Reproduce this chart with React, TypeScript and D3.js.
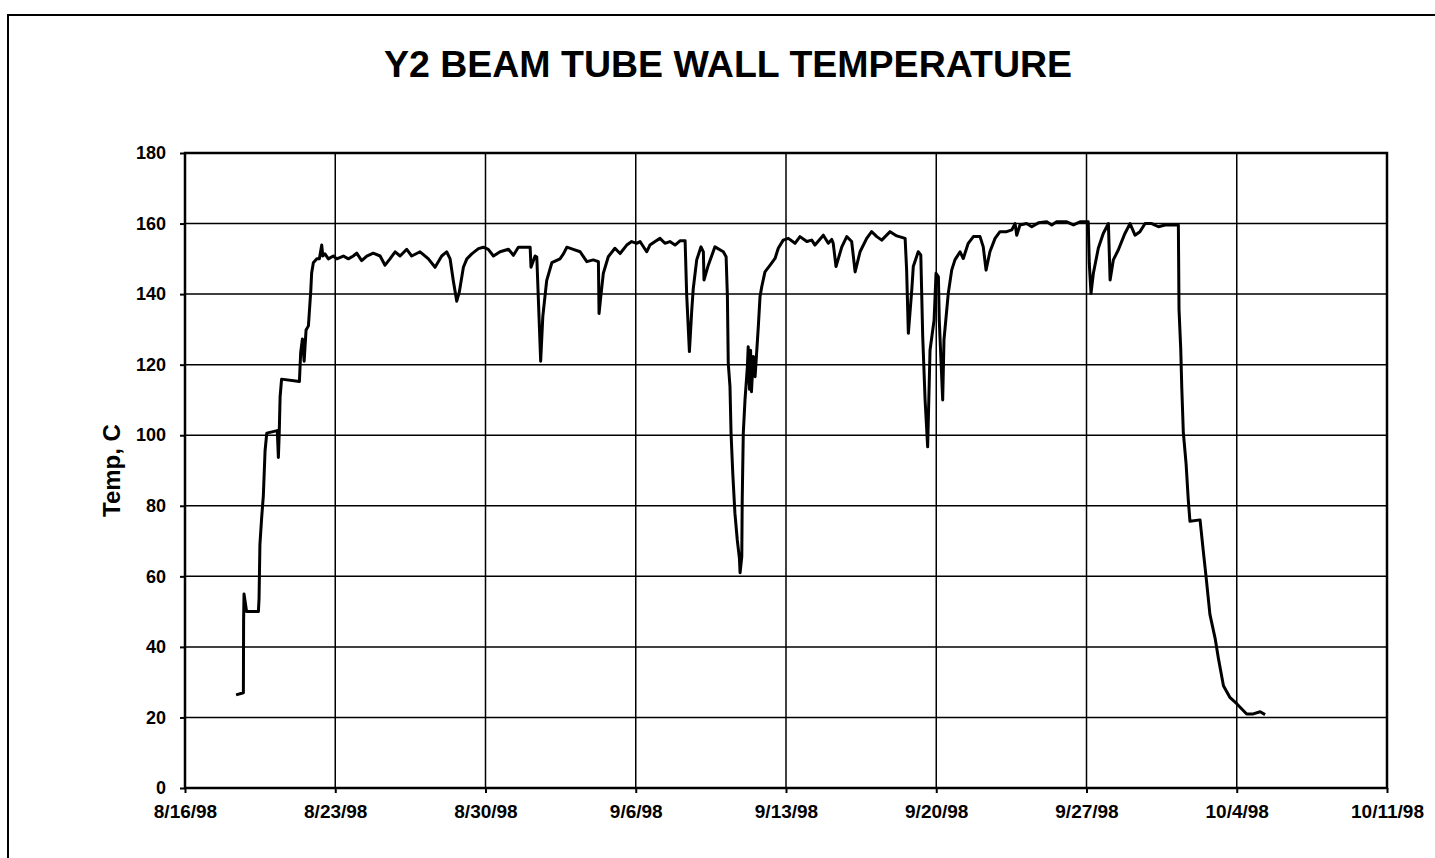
import { useEffect, useRef } from "react"
import * as d3 from "d3"

// x axis: 8/16/98 .. 10/11/98, one tick per week
const startDate = new Date(1998, 7, 16)
const weekCount = 8
const yTicks = [0, 20, 40, 60, 80, 100, 120, 140, 160, 180]

// days since 8/16/98 (fractional) and wall temperature, C
const dayOffsets = [
  2.38, 2.72, 2.73, 2.75, 2.87, 3.42, 3.45, 3.49, 3.57, 3.65, 3.73, 3.81, 4.30, 4.35, 4.39, 4.43, 4.50,
  5.33, 5.39, 5.47, 5.55, 5.64, 5.75, 5.86, 5.90, 5.98, 6.14, 6.26, 6.37, 6.42, 6.52, 6.68, 6.91, 7.07,
  7.38, 7.61, 7.84, 8.00, 8.23, 8.47, 8.77, 9.09, 9.32, 9.55, 9.79, 10.02, 10.33, 10.56, 10.95, 11.34,
  11.65, 11.96, 12.19, 12.35, 12.50, 12.66, 12.78, 12.97, 13.13, 13.36, 13.67, 13.90, 14.13, 14.37,
  14.68, 15.07, 15.30, 15.53, 16.08, 16.12, 16.31, 16.39, 16.57, 16.67, 16.85, 17.09, 17.47, 17.63,
  17.79, 18.09, 18.41, 18.72, 19.02, 19.26, 19.29, 19.37, 19.49, 19.72, 20.03, 20.27, 20.58, 20.81,
  21.04, 21.20, 21.51, 21.66, 21.90, 22.13, 22.36, 22.59, 22.83, 23.06, 23.30, 23.37, 23.50, 23.61,
  23.68, 23.84, 24.04, 24.15, 24.18, 24.38, 24.69, 25.08, 25.21, 25.27, 25.31, 25.39, 25.44, 25.52,
  25.62, 25.73, 25.83, 25.86, 25.94, 25.96, 26.01, 26.09, 26.20, 26.24, 26.30, 26.35, 26.39, 26.48,
  26.56, 26.64, 26.71, 26.79, 26.87, 27.02, 27.26, 27.49, 27.64, 27.87, 28.11, 28.42, 28.65, 28.97,
  29.20, 29.35, 29.74, 29.97, 30.13, 30.20, 30.33, 30.60, 30.83, 31.06, 31.22, 31.45, 31.76, 31.99,
  32.23, 32.46, 32.85, 33.16, 33.55, 33.62, 33.70, 33.86, 33.93, 34.16, 34.28, 34.37, 34.48, 34.60,
  34.71, 34.90, 34.99, 35.10, 35.14, 35.26, 35.30, 35.36, 35.56, 35.72, 35.87, 36.11, 36.26, 36.49,
  36.73, 37.04, 37.19, 37.32, 37.50, 37.74, 37.97, 38.28, 38.52, 38.67, 38.75, 38.90, 39.21, 39.45,
  39.76, 40.15, 40.38, 40.61, 41.08, 41.39, 41.70, 42.08, 42.13, 42.21, 42.32, 42.55, 42.78, 43.02,
  43.10, 43.25, 43.48, 43.79, 44.03, 44.26, 44.49, 44.73, 45.04, 45.35, 45.66, 46.28, 46.31, 46.39,
  46.44, 46.51, 46.64, 46.74, 46.82, 47.29, 47.44, 47.57, 47.75, 47.99, 48.14, 48.38, 48.69, 49.00,
  49.46, 49.77, 50.09, 50.32
]

const temps = [
  26.4, 27, 47.3, 55, 50, 50, 53.7, 69, 76.5, 82.9, 95.6, 100.6, 101.3, 93.7, 100.6, 110.8, 115.9,
  115.2, 123.5, 127.3, 121, 129.8, 131, 141, 146, 148.9, 150, 150, 153.9, 150.8, 151.4, 150, 150.8, 150,
  150.8, 150, 150.8, 151.6, 149.5, 150.8, 151.6, 150.8, 148.2, 150, 152, 150.8, 152.7, 150.8, 152, 150,
  147.6, 150.8, 152, 150, 143.8, 138, 140.6, 147.6, 150, 151.4, 152.9, 153.3, 152.7, 150.8,
  152, 152.7, 151, 153.3, 153.3, 147.6, 150.8, 150.5, 121, 133.6, 143.8, 148.9, 150, 151.4,
  153.3, 152.7, 152, 149.2, 149.7, 149.2, 134.5, 139.3, 145.9, 150.6, 153, 151.5, 153.9, 154.9,
  154.4, 154.9, 152, 153.9, 154.9, 155.8, 154.4, 154.9, 153.9, 155.1, 155.1, 140.2, 123.7, 135.5,
  141.6, 149.7, 153.4, 152, 144, 148.2, 153.4, 152, 150.6, 139.3, 120.4, 113.8, 100.6, 89.2,
  77.9, 70.3, 65.1, 61, 65.6, 81.6, 100.6, 110, 119.4, 125.1, 113, 124.1, 112.3, 122.3,
  116.6, 124.1, 130.8, 139.3, 142.1, 146.3, 148.2, 150.1, 153, 155.3, 155.8, 154.4, 156.3, 154.9,
  155.3, 153.9, 156.7, 154.4, 155.5, 154.4, 147.8, 153.4, 156.3, 154.9, 146.3, 152, 155.8, 157.7,
  156.3, 155.3, 157.7, 156.5, 155.8, 146.8, 128.9, 141.2, 147.8, 152, 151.1, 127.9, 110, 96.7,
  124.1, 132.7, 145.9, 144.9, 132.7, 115.6, 110, 127, 140.2, 146.8, 149.7, 152, 150.1, 154.4,
  156.3, 156.3, 153.4, 146.8, 152, 155.8, 157.7, 157.7, 158.2, 160, 156.7, 159.6, 160, 159.1,
  160.2, 160.5, 159.6, 160.5, 160.5, 159.6, 160.5, 160.5, 148.7, 140.2, 145.9, 153, 157.2, 160,
  144, 149.7, 152.5, 157.2, 160, 156.7, 157.7, 160, 160, 159.1, 159.6, 159.6, 135.7, 124.5,
  113.3, 100.9, 91.9, 81.8, 75.6, 76, 67.2, 59.9, 49.2, 42.5, 36.9, 29, 25.6, 23.9,
  21, 21, 21.6, 20.8
]

const W = 1435
const H = 858
const plot = { left: 185, right: 1387, top: 153, bottom: 788 }
const font = "'Liberation Sans', Arial, sans-serif"

export default function App() {
  const ref = useRef(null)

  useEffect(() => {
    const svg = d3.select(ref.current)
    svg.selectAll("*").remove()

    const endDate = d3.timeDay.offset(startDate, weekCount * 7)
    const x = d3.scaleTime().domain([startDate, endDate]).range([plot.left, plot.right])
    const y = d3.scaleLinear().domain([0, 180]).range([plot.bottom, plot.top])
    const weeks = d3.range(weekCount + 1).map(i => d3.timeDay.offset(startDate, i * 7))

    const data = dayOffsets.map((d, i) => ({
      date: new Date(startDate.getTime() + d * 86400000),
      temp: temps[i]
    }))

    // page frame
    svg.append("path")
      .attr("d", `M8,${H} V15 H${W}`)
      .attr("fill", "none")
      .attr("stroke", "#000")
      .attr("stroke-width", 2)

    svg.append("text")
      .attr("x", 728)
      .attr("y", 77)
      .attr("text-anchor", "middle")
      .attr("font-family", font)
      .attr("font-weight", "bold")
      .attr("font-size", 37.5)
      .text("Y2 BEAM TUBE WALL TEMPERATURE")

    // grid
    svg.append("g")
      .selectAll("line")
      .data(yTicks)
      .join("line")
      .attr("x1", plot.left)
      .attr("x2", plot.right)
      .attr("y1", d => y(d))
      .attr("y2", d => y(d))
      .attr("stroke", "#000")
      .attr("stroke-width", 1.5)

    svg.append("g")
      .selectAll("line")
      .data(weeks)
      .join("line")
      .attr("x1", d => x(d))
      .attr("x2", d => x(d))
      .attr("y1", plot.top)
      .attr("y2", plot.bottom)
      .attr("stroke", "#000")
      .attr("stroke-width", 1.5)

    svg.append("rect")
      .attr("x", plot.left)
      .attr("y", plot.top)
      .attr("width", plot.right - plot.left)
      .attr("height", plot.bottom - plot.top)
      .attr("fill", "none")
      .attr("stroke", "#000")
      .attr("stroke-width", 2.5)

    // axes
    svg.append("g")
      .attr("transform", `translate(0,${plot.bottom})`)
      .call(d3.axisBottom(x).tickValues(weeks).tickFormat(d3.timeFormat("%-m/%-d/%y")).tickSize(5).tickPadding(12))
      .call(g => g.select(".domain").remove())
      .call(g => g.selectAll(".tick line").attr("stroke", "#000").attr("stroke-width", 2))
      .call(g => g.selectAll(".tick text")
        .attr("fill", "#000")
        .attr("font-family", font)
        .attr("font-weight", "bold")
        .attr("font-size", 19))

    svg.append("g")
      .attr("transform", `translate(${plot.left},0)`)
      .call(d3.axisLeft(y).tickValues(yTicks).tickSize(5).tickPadding(14))
      .call(g => g.select(".domain").remove())
      .call(g => g.selectAll(".tick line").attr("stroke", "#000").attr("stroke-width", 2))
      .call(g => g.selectAll(".tick text")
        .attr("fill", "#000")
        .attr("font-family", font)
        .attr("font-weight", "bold")
        .attr("font-size", 18))

    svg.append("text")
      .attr("transform", `translate(120,${(plot.top + plot.bottom) / 2}) rotate(-90)`)
      .attr("text-anchor", "middle")
      .attr("font-family", font)
      .attr("font-weight", "bold")
      .attr("font-size", 24)
      .text("Temp, C")

    const line = d3.line()
      .x(d => x(d.date))
      .y(d => y(d.temp))

    svg.append("path")
      .datum(data)
      .attr("d", line)
      .attr("fill", "none")
      .attr("stroke", "#000")
      .attr("stroke-width", 3)
      .attr("stroke-linejoin", "round")
  }, [])

  return (
    <div style={{ position: "absolute", left: 0, top: 0, background: "#fff" }}>
      <svg ref={ref} width={W} height={H} style={{ display: "block" }} />
    </div>
  )
}
